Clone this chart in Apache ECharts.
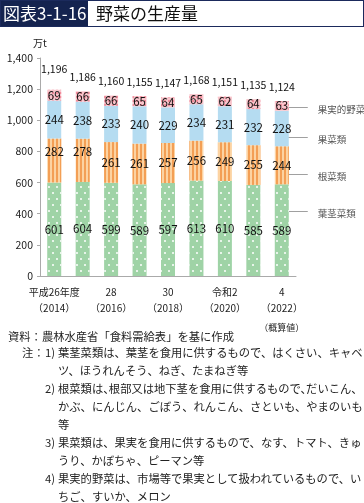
<!DOCTYPE html>
<html><head><meta charset="utf-8">
<script src="https://cdn.jsdelivr.net/npm/echarts@6/dist/echarts.min.js"></script>
<style>
html,body{margin:0;padding:0;background:#fff;}
body{width:364px;height:503px;position:relative;overflow:hidden;font-family:"Noto Sans CJK JP",sans-serif;}
#chart{position:absolute;left:0;top:0;width:364px;height:503px;}
.t{position:absolute;white-space:nowrap;font-size:11.3px;line-height:14px;color:#222;}
#title{position:absolute;left:0;top:0;width:364px;height:27px;border:1.5px solid #1b2a5c;box-sizing:border-box;}
#tbox{position:absolute;left:0;top:0;width:87px;height:100%;background:#14234f;color:#fff;font-size:17px;line-height:24px;padding-left:2px;box-sizing:border-box;}
#ttext{position:absolute;left:95px;top:0;font-size:17px;line-height:24px;color:#111;}
</style></head>
<body>
<div id="chart"></div>
<div id="title"><div id="tbox">図表3-1-16</div><div id="ttext">野菜の生産量</div></div>
<div class="t" style="left:8px;top:329px">資料：農林水産省「食料需給表」を基に作成</div>
<div class="t" style="left:22px;top:345px">注：</div>
<div class="t" style="left:45px;top:345px">1)</div>
<div class="t" style="left:58px;top:345px">葉茎菜類は、葉茎を食用に供するもので、はくさい、キャベ</div>
<div class="t" style="left:58px;top:363px">ツ、ほうれんそう、ねぎ、たまねぎ等</div>
<div class="t" style="left:45px;top:381px">2)</div>
<div class="t" style="left:58px;top:381px;font-feature-settings:'halt'">根菜類は、根部又は地下茎を食用に供するもので、だいこん、</div>
<div class="t" style="left:58px;top:399px">かぶ、にんじん、ごぼう、れんこん、さといも、やまのいも</div>
<div class="t" style="left:58px;top:417px">等</div>
<div class="t" style="left:45px;top:435px">3)</div>
<div class="t" style="left:58px;top:435px">果菜類は、果実を食用に供するもので、なす、トマト、きゅ</div>
<div class="t" style="left:58px;top:453px">うり、かぼちゃ、ピーマン等</div>
<div class="t" style="left:45px;top:471px">4)</div>
<div class="t" style="left:58px;top:471px">果実的野菜は、市場等で果実として扱われているもので、い</div>
<div class="t" style="left:58px;top:489px">ちご、すいか、メロン</div>
<script>
// ---- data ----
const categories = ['平成26年度','27','28','29','30','令和元','令和2','3','4'];
const years = ['2014','2015','2016','2017','2018','2019','2020','2021','2022'];
const seriesNames = ['葉茎菜類','根菜類','果菜類','果実的野菜'];
const leafStem = [601,604,599,589,597,613,610,585,589];
const root = [282,278,261,261,257,256,249,255,244];
const fruitVeg = [244,238,233,240,229,234,231,232,228];
const fruitLike = [69,66,66,65,64,65,62,64,63];
const totals = [1196,1186,1160,1155,1147,1168,1151,1135,1124];
const yTicks = [0,200,400,600,800,1000,1200,1400];

const FONT = '"Noto Sans CJK JP", sans-serif';
const chart = echarts.init(document.getElementById('chart'), null, {renderer:'canvas'});

const styles = [
  {color:'#9fd3a6', decal:{symbol:'circle', color:'#ffffff', symbolSize:1, dashArrayX:[[1.8,5.2],[0,3.5,1.8,1.7]], dashArrayY:[1.8,4]}},
  {color:'#fcd3a2', decal:{symbol:'rect', color:'#f39f55', symbolSize:1, dashArrayX:[2,1.6], dashArrayY:[10,0]}},
  {color:'#b5dcf1'},
  {color:'#f9c4cb', decal:{symbol:'circle', color:'#ee7d8e', symbolSize:1, dashArrayX:[1.1,1.6], dashArrayY:[1.1,1.6]}}
];
const valueSets = [leafStem, root, fruitVeg, fruitLike];
const labelOffsets = {1:{0:[0,-9],1:[0,-9]}};

const barSeries = valueSets.map((vals, si) => ({
  name: seriesNames[si], type:'bar', stack:'total', barWidth:14,
  itemStyle: styles[si],
  label:{show:true, position:'inside', color:'#111', fontSize:11.5, fontFamily:FONT},
  data: vals.map((v,i) => {
    const o = labelOffsets[si] && labelOffsets[si][i];
    return o ? {value:v, label:{offset:o}} : v;
  })
}));
barSeries.push({
  name:'合計', type:'bar', stack:'total', barWidth:14,
  itemStyle:{color:'transparent'},
  label:{show:true, position:'top', distance:9, color:'#111', fontSize:10.5, fontFamily:FONT,
    formatter: p => totals[p.dataIndex].toLocaleString('en-US')},
  data: totals.map((t,i) => i===0 ? {value:0, label:{distance:16}} : 0)
});

chart.setOption({
  animation:false,
  textStyle:{fontFamily:FONT},
  grid:{left:40, right:68, top:58, bottom:227, containLabel:false},
  xAxis:{
    type:'category', data:categories,
    axisLine:{lineStyle:{color:'#aaa'}}, axisTick:{show:false},
    axisLabel:{interval:1, margin:8, color:'#222', fontSize:10, lineHeight:16, fontFamily:FONT,
      formatter:(v,i) => v + '\n（' + years[i] + '）' + (i===categories.length-1 ? '\n{s|（概算値）}' : ''),
      rich:{s:{fontSize:9, lineHeight:24, color:'#222', fontFamily:FONT}}
    }
  },
  yAxis:{
    type:'value', min:yTicks[0], max:yTicks[yTicks.length-1], interval:200,
    name:'万t', nameLocation:'end', nameGap:10,
    nameTextStyle:{color:'#222', fontSize:10, fontFamily:FONT, align:'center'},
    axisLine:{show:true, lineStyle:{color:'#aaa'}},
    axisTick:{show:true, length:3, lineStyle:{color:'#aaa'}},
    splitLine:{show:false},
    axisLabel:{margin:7, color:'#222', fontSize:10.5, fontFamily:FONT, formatter:v => v.toLocaleString('en-US')}
  },
  series:barSeries
});

// callout labels for the series at the right of the last bar
const last = categories.length - 1;
const yOff = [-19, 9, 8, 1];
const graphics = [];
let cum = 0;
valueSets.forEach((vals, si) => {
  const mid = cum + vals[last]/2;
  cum += vals[last];
  const p = chart.convertToPixel({gridIndex:0}, [last, mid]);
  const y = Math.round(p[1] + yOff[si]) + 0.5;
  const xr = p[0] + 7;
  graphics.push({type:'line', shape:{x1:xr-1, y1:y, x2:xr+19, y2:y}, style:{stroke:'#a0a0a0', lineWidth:1}, silent:true});
  graphics.push({type:'text', x:xr+29, y:y+2, style:{text:seriesNames[si], fill:'#555', font:'9.5px ' + FONT, verticalAlign:'middle'}, silent:true});
});
chart.setOption({graphic:graphics});
</script>
</body></html>
